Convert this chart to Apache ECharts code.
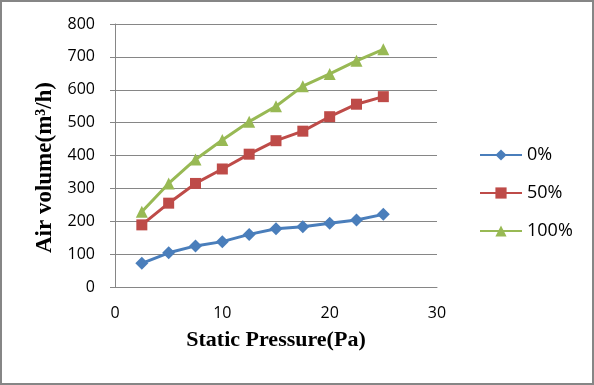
<!DOCTYPE html>
<html><head><meta charset="utf-8">
<script src="https://cdn.jsdelivr.net/npm/echarts@6/dist/echarts.min.js"></script>
<style>html,body{margin:0;padding:0;background:#fff}#c{width:594px;height:385px}</style>
</head><body><div id="c"></div>
<script>
const pressure = [2.5, 5, 7.5, 10, 12.5, 15, 17.5, 20, 22.5, 25];
const s0 = [72, 104, 125, 138, 160, 177, 183, 194, 204, 221];
const s50 = [189, 255, 315, 359, 404, 445, 474, 518, 556, 579];
const s100 = [229, 315, 388, 447, 503, 550, 611, 648, 688, 723];
const names = ['0%', '50%', '100%'];
const colors = ['#4A7EBB', '#BE4B48', '#98B954'];
const symbols = ['diamond', 'rect', 'triangle'];
const sizes = [13, 11, 12];
const all = [s0, s50, s100];
const tickFont = '"Open Sans", "DejaVu Sans", sans-serif';
const titleFont = '"Liberation Serif", "Times New Roman", serif';
const chart = echarts.init(document.getElementById('c'));
chart.setOption({
  animation: false,
  graphic: [{type: 'rect', shape: {x: 1, y: 1, width: 592, height: 383}, style: {fill: 'none', stroke: '#868686', lineWidth: 2}, silent: true}],
  grid: {left: 115, right: 157, top: 24, bottom: 98, containLabel: false},
  legend: {
    orient: 'vertical', left: 474, top: 141, itemGap: 20, itemWidth: 42, itemHeight: 14,
    textStyle: {fontFamily: tickFont, fontSize: 18, color: '#000', lineHeight: 14, padding: [0,0,0,0]},
    data: names
  },
  xAxis: {
    type: 'value', min: 0, max: 30, interval: 10,
    name: 'Static Pressure(Pa)', nameLocation: 'middle', nameGap: 42,
    nameTextStyle: {fontFamily: titleFont, fontWeight: 'bold', fontSize: 22, color: '#000'},
    axisLine: {lineStyle: {color: '#868686', width: 1}},
    axisTick: {show: false},
    axisLabel: {fontFamily: tickFont, fontSize: 16, color: '#000', margin: 18},
    splitLine: {show: false}
  },
  yAxis: {
    type: 'value', min: 0, max: 800, interval: 100,
    name: 'Air volume(m³/h)', nameLocation: 'middle', nameGap: 58, nameRotate: 90,
    nameTextStyle: {fontFamily: titleFont, fontWeight: 'bold', fontSize: 23, color: '#000', padding: [0, 24, 0, 0]},
    axisLine: {show: true, lineStyle: {color: '#868686', width: 1}},
    axisTick: {show: true, length: 5, lineStyle: {color: '#868686'}},
    axisLabel: {fontFamily: tickFont, fontSize: 16, color: '#000', margin: 20},
    splitLine: {lineStyle: {color: '#868686', width: 1}}
  },
  series: all.map((vals, i) => ({
    name: names[i], type: 'line',
    data: pressure.map((x, j) => [x, vals[j]]),
    symbol: symbols[i], symbolSize: sizes[i],
    itemStyle: {color: colors[i]},
    lineStyle: {color: colors[i], width: 3}
  }))
});
</script></body></html>
